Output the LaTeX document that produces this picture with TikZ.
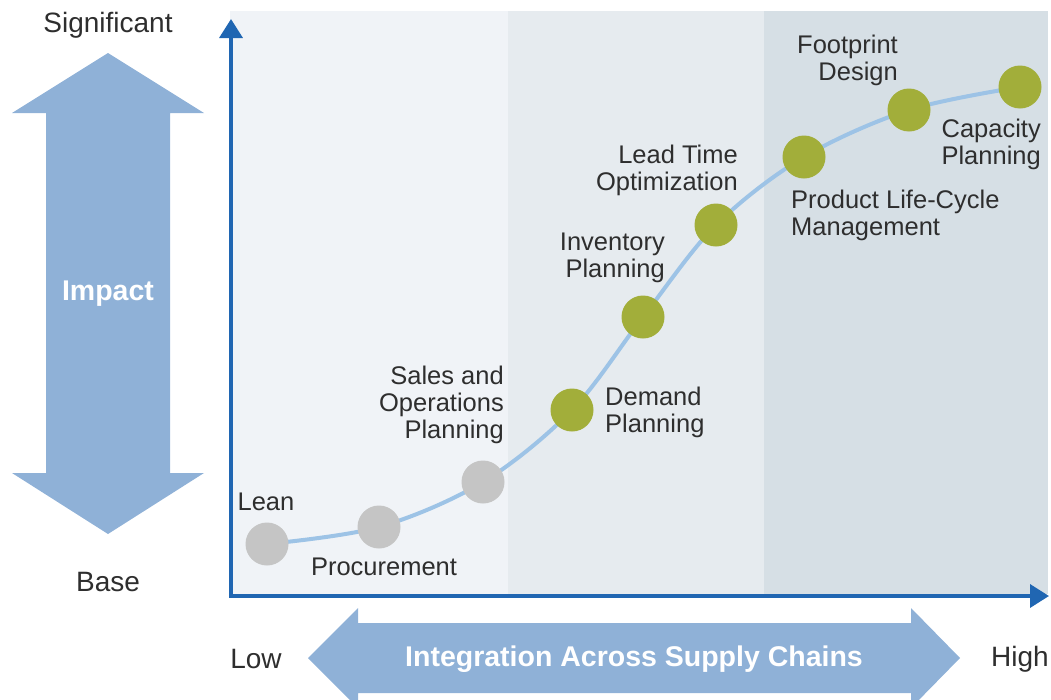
\documentclass[tikz,border=0pt]{standalone}
\usepackage{fontspec}
\setmainfont{Liberation Sans}
\usetikzlibrary{arrows.meta}
\definecolor{panelA}{HTML}{F0F3F7}
\definecolor{panelB}{HTML}{E6EBEF}
\definecolor{panelC}{HTML}{D6DFE5}
\definecolor{axisblue}{HTML}{2066B2}
\definecolor{bigarrow}{HTML}{8FB1D7}
\definecolor{curveblue}{HTML}{9DC3E6}
\definecolor{dotgreen}{HTML}{A2AE3A}
\definecolor{dotgray}{HTML}{C5C5C5}
\definecolor{txt}{HTML}{2E2E2E}
\tikzset{
  axisline/.style={draw=axisblue, line width=3.5pt, -{Triangle[width=23pt,length=19pt]}},
  bigshape/.style={fill=bigarrow, draw=none},
  curveline/.style={draw=curveblue, line width=4pt},
  dotG/.style={circle, fill=dotgreen, minimum size=43pt, inner sep=0pt},
  dotY/.style={circle, fill=dotgray, minimum size=43pt, inner sep=0pt},
  lbl/.style={text=txt, font=\fontsize{25.5}{27}\selectfont, inner sep=0pt},
  axlbl/.style={text=txt, font=\fontsize{28}{30}\selectfont, inner sep=0pt},
  wlbl/.style={text=white, font=\bfseries\fontsize{28.5}{30}\selectfont, inner sep=0pt}
}
\begin{document}
\begin{tikzpicture}[x=1pt,y=-1pt]
\useasboundingbox (0,0) rectangle (1051,699);
% panels
\fill[panelA] (230,11) rectangle (508,594);
\fill[panelB] (508,11) rectangle (764,594);
\fill[panelC] (764,11) rectangle (1048,594);
% axes
\coordinate (O) at (231,596);
\coordinate (ytop) at (231,19);
\coordinate (xright) at (1049,596);
\draw[axisline] (231,597.75) -- (ytop);
\draw[axisline] (O) -- (xright);
% big vertical double arrow
\path[bigshape] (108,53) -- (204,113) -- (170,113) -- (170,473) -- (204,473) -- (108,534)
  -- (12,473) -- (46,473) -- (46,113) -- (12,113) -- cycle;
% big horizontal double arrow
\path[bigshape] (308,658) -- (358,608) -- (358,623) -- (911,623) -- (911,608) -- (960,658)
  -- (911,708) -- (911,693) -- (358,693) -- (358,708) -- cycle;
\node[wlbl] (impact) at (108,294) {Impact};
\node[wlbl] (integ) at (634,659) {Integration Across Supply Chains};
\node[axlbl] (sig) at (108,25) {Significant};
\node[axlbl] (base) at (108,582) {Base};
\node[axlbl] (low) at (256,659) {Low};
\node[axlbl] (high) at (1020,659) {High};
% curve points
\coordinate (p1) at (267,544);
\coordinate (p2) at (379,527);
\coordinate (p3) at (483,482);
\coordinate (p4) at (572,410);
\coordinate (p5) at (643,317);
\coordinate (p6) at (716,225);
\coordinate (p7) at (804,157);
\coordinate (p8) at (909,110);
\coordinate (p9) at (1020,87);
\draw[curveline] plot[smooth, tension=0.55] coordinates {(p1) (p2) (p3) (p4) (p5) (p6) (p7) (p8) (p9)};
\node[dotY] (lean) at (p1) {};
\node[dotY] (proc) at (p2) {};
\node[dotY] (sop) at (p3) {};
\node[dotG] (dem) at (p4) {};
\node[dotG] (inv) at (p5) {};
\node[dotG] (lead) at (p6) {};
\node[dotG] (plc) at (p7) {};
\node[dotG] (foot) at (p8) {};
\node[dotG] (cap) at (p9) {};
% labels
\node[lbl] (tlean) at (266,502) {Lean};
\node[lbl] (tproc) at (384,567) {Procurement};
\node[lbl, align=right, anchor=east] (tsop) at (504,405) {Sales and\\Operations\\Planning};
\node[lbl, align=left, anchor=west] (tdem) at (605,412) {Demand\\Planning};
\node[lbl, align=right, anchor=east] (tinv) at (665,258) {Inventory\\Planning};
\node[lbl, align=right, anchor=east] (tlead) at (738,170) {Lead Time\\Optimization};
\node[lbl, align=left, anchor=west] (tplc) at (791,215) {Product Life-Cycle\\Management};
\node[lbl, align=right, anchor=east] (tfoot) at (898,60) {Footprint\\Design};
\node[lbl, align=right, anchor=east] (tcap) at (1041,144) {Capacity\\Planning};
\end{tikzpicture}
\end{document}
